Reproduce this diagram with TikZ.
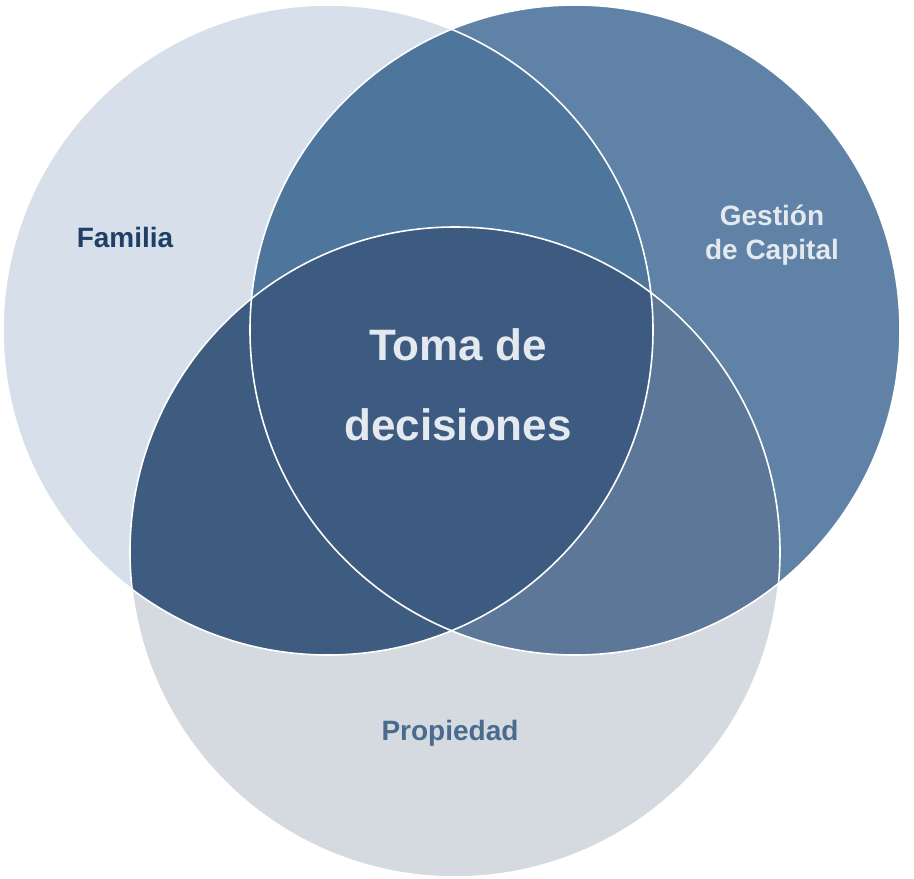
\documentclass[tikz,border=0pt]{standalone}
\usepackage{fontspec}
\setmainfont{Liberation Sans}
\definecolor{cFam}{HTML}{D6DFEA}
\definecolor{cCap}{HTML}{5F82A6}
\definecolor{cProp}{HTML}{D5DAE0}
\definecolor{cFamCap}{HTML}{4E759C}
\definecolor{cFamProp}{HTML}{3D5C80}
\definecolor{cCapProp}{HTML}{5D7799}
\definecolor{cCentro}{HTML}{3D5B80}
\definecolor{cFamTxt}{HTML}{1F3F66}
\definecolor{cPropTxt}{HTML}{4A6A90}
\definecolor{cLight}{HTML}{E4E9F0}
\begin{document}
\begin{tikzpicture}[x=1pt,y=-1pt,
    ring/.style={draw=white, line width=1.6pt},
    label_txt/.style={font=\bfseries\fontsize{28}{34}\selectfont, align=center}
]
\useasboundingbox (0,0) rectangle (914,879);
% --- circulos base ---
\fill[fill=cFam] (328,330) circle (325);
\fill[fill=cCap] (575,330) circle (325);
\fill[fill=cProp] (455,552) circle (325);
% --- intersecciones ---
\begin{scope}
  \clip (328,330) circle (325);
  \fill[cFamCap] (575,330) circle (325);
  \fill[cFamProp] (455,552) circle (325);
\end{scope}
\begin{scope}
  \clip (575,330) circle (325);
  \fill[cCapProp] (455,552) circle (325);
  \clip (328,330) circle (325);
  \fill[cCentro] (455,552) circle (325);
\end{scope}
% --- contornos ---
\draw[ring] (328,330) circle (325);
\draw[ring] (575,330) circle (325);
\draw[ring] (455,552) circle (325);
% --- etiquetas ---
\node[label_txt, text=cFamTxt] (familia) at (125,237) {Familia};
\node[label_txt, text=cLight] (capital) at (772,235) {Gesti\'on\\de Capital};
\node[label_txt, text=cPropTxt] (propiedad) at (450,733) {Propiedad};
\node[label_txt, text=cLight, font=\bfseries\fontsize{44}{80}\selectfont] (toma) at (458,385) {Toma de\\decisiones};
\end{tikzpicture}
\end{document}
